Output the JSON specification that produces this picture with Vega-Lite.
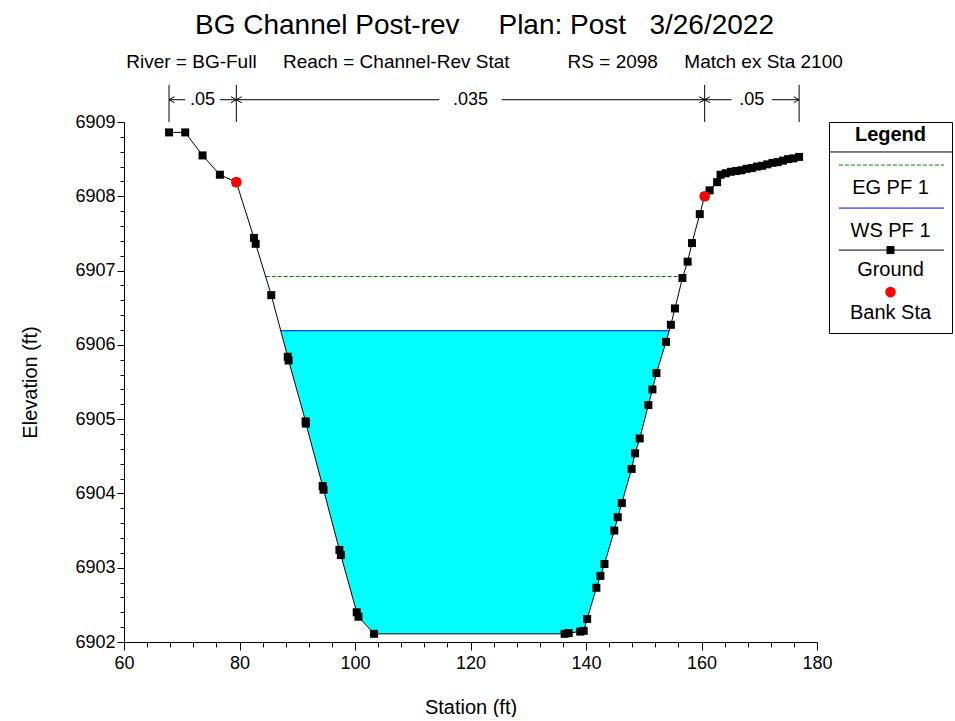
{
  "$schema": "https://vega.github.io/schema/vega-lite/v6.json",
  "autosize": {"type": "pad"},
  "padding": {"left": 20, "top": 12, "right": 0, "bottom": 0},
  "background": "white",
  "config": {"font": "Liberation Sans", "view": {"stroke": null}},
  "datasets": {
    "ground": [
      {"station": 67.8, "elev": 6908.86}, {"station": 70.6, "elev": 6908.86}, {"station": 73.6, "elev": 6908.55},
      {"station": 76.6, "elev": 6908.29}, {"station": 79.45, "elev": 6908.19}, {"station": 82.5, "elev": 6907.44},
      {"station": 82.8, "elev": 6907.36}, {"station": 85.5, "elev": 6906.67}, {"station": 88.35, "elev": 6905.84},
      {"station": 88.5, "elev": 6905.79}, {"station": 91.45, "elev": 6904.97}, {"station": 91.5, "elev": 6904.94},
      {"station": 94.4, "elev": 6904.1}, {"station": 94.55, "elev": 6904.05}, {"station": 97.3, "elev": 6903.24},
      {"station": 97.55, "elev": 6903.17}, {"station": 100.3, "elev": 6902.4}, {"station": 100.6, "elev": 6902.34},
      {"station": 103.3, "elev": 6902.11}, {"station": 136.3, "elev": 6902.11}, {"station": 137.0, "elev": 6902.12},
      {"station": 139.0, "elev": 6902.14}, {"station": 139.6, "elev": 6902.15}, {"station": 140.2, "elev": 6902.31},
      {"station": 141.8, "elev": 6902.73}, {"station": 142.5, "elev": 6902.89}, {"station": 143.2, "elev": 6903.05},
      {"station": 144.9, "elev": 6903.5}, {"station": 145.5, "elev": 6903.68}, {"station": 146.2, "elev": 6903.87},
      {"station": 147.9, "elev": 6904.33}, {"station": 148.5, "elev": 6904.54}, {"station": 149.3, "elev": 6904.74},
      {"station": 150.8, "elev": 6905.19}, {"station": 151.5, "elev": 6905.4}, {"station": 152.2, "elev": 6905.62},
      {"station": 153.85, "elev": 6906.04}, {"station": 154.7, "elev": 6906.27}, {"station": 155.4, "elev": 6906.49},
      {"station": 156.7, "elev": 6906.9}, {"station": 157.6, "elev": 6907.12}, {"station": 158.35, "elev": 6907.37},
      {"station": 159.7, "elev": 6907.76}, {"station": 160.55, "elev": 6908.0}, {"station": 161.4, "elev": 6908.08},
      {"station": 162.7, "elev": 6908.19}, {"station": 163.3, "elev": 6908.29}, {"station": 164.2, "elev": 6908.31},
      {"station": 165.1, "elev": 6908.33}, {"station": 166.0, "elev": 6908.34}, {"station": 166.9, "elev": 6908.35},
      {"station": 167.8, "elev": 6908.37}, {"station": 168.7, "elev": 6908.38}, {"station": 169.6, "elev": 6908.4},
      {"station": 170.5, "elev": 6908.41}, {"station": 171.4, "elev": 6908.43}, {"station": 172.3, "elev": 6908.45},
      {"station": 173.2, "elev": 6908.46}, {"station": 174.1, "elev": 6908.48}, {"station": 175.0, "elev": 6908.5},
      {"station": 175.9, "elev": 6908.51}, {"station": 176.9, "elev": 6908.53}
    ],
    "water": [
      {"station": 87.17, "elev": 6906.19}, {"station": 88.35, "elev": 6905.84}, {"station": 88.5, "elev": 6905.79},
      {"station": 91.45, "elev": 6904.97}, {"station": 91.5, "elev": 6904.94}, {"station": 94.4, "elev": 6904.1},
      {"station": 94.55, "elev": 6904.05}, {"station": 97.3, "elev": 6903.24}, {"station": 97.55, "elev": 6903.17},
      {"station": 100.3, "elev": 6902.4}, {"station": 100.6, "elev": 6902.34}, {"station": 103.3, "elev": 6902.11},
      {"station": 136.3, "elev": 6902.11}, {"station": 137.0, "elev": 6902.12}, {"station": 139.0, "elev": 6902.14},
      {"station": 139.6, "elev": 6902.15}, {"station": 140.2, "elev": 6902.31}, {"station": 141.8, "elev": 6902.73},
      {"station": 142.5, "elev": 6902.89}, {"station": 143.2, "elev": 6903.05}, {"station": 144.9, "elev": 6903.5},
      {"station": 145.5, "elev": 6903.68}, {"station": 146.2, "elev": 6903.87}, {"station": 147.9, "elev": 6904.33},
      {"station": 148.5, "elev": 6904.54}, {"station": 149.3, "elev": 6904.74}, {"station": 150.8, "elev": 6905.19},
      {"station": 151.5, "elev": 6905.4}, {"station": 152.2, "elev": 6905.62}, {"station": 153.85, "elev": 6906.04},
      {"station": 154.4, "elev": 6906.19}
    ],
    "bank": [{"station": 79.45, "elev": 6908.19}, {"station": 160.55, "elev": 6908.0}],
    "ws": [{"station": 87.17, "station2": 154.4, "elev": 6906.19}],
    "eg": [{"station": 84.53, "station2": 156.75, "elev": 6906.92}],
    "nbounds": [
      {"station": 67.8, "elev": 6909.0, "elev2": 6909.5}, {"station": 79.45, "elev": 6909.0, "elev2": 6909.5},
      {"station": 160.55, "elev": 6909.0, "elev2": 6909.5}, {"station": 176.9, "elev": 6909.0, "elev2": 6909.5}
    ],
    "narrows": [
      {"station": 67.8, "station2": 70.6, "elev": 6909.3}, {"station": 76.6, "station2": 79.45, "elev": 6909.3},
      {"station": 79.45, "station2": 114.6, "elev": 6909.3}, {"station": 125.4, "station2": 160.55, "elev": 6909.3},
      {"station": 160.55, "station2": 165.2, "elev": 6909.3}, {"station": 172.2, "station2": 176.9, "elev": 6909.3}
    ],
    "nlabels": [
      {"n": ".05", "station": 73.6, "elev": 6909.3}, {"n": ".035", "station": 120.0, "elev": 6909.3},
      {"n": ".05", "station": 168.7, "elev": 6909.3}
    ],
    "nheads": [
      {"station": 67.8, "elev": 6909.3, "dir": "left"}, {"station": 79.45, "elev": 6909.3, "dir": "right"},
      {"station": 79.45, "elev": 6909.3, "dir": "left"}, {"station": 160.55, "elev": 6909.3, "dir": "right"},
      {"station": 160.55, "elev": 6909.3, "dir": "left"}, {"station": 176.9, "elev": 6909.3, "dir": "right"}
    ],
    "legendText": [
      {"label": "EG PF 1", "lx": 0.5, "ly": 3.13}, {"label": "WS PF 1", "lx": 0.5, "ly": 5.17},
      {"label": "Ground", "lx": 0.5, "ly": 7.01}, {"label": "Bank Sta", "lx": 0.5, "ly": 9.05}
    ]
  },
  "hconcat": [
    {
      "width": 693,
      "height": 520,
      "title": {
        "text": "BG Channel Post-rev\u00a0\u00a0\u00a0\u00a0 Plan: Post\u00a0\u00a0 3/26/2022",
        "subtitle": "River = BG-Full\u00a0\u00a0\u00a0\u00a0 Reach = Channel-Rev Stat\u00a0\u00a0\u00a0\u00a0\u00a0\u00a0\u00a0\u00a0\u00a0\u00a0 RS = 2098\u00a0\u00a0\u00a0\u00a0 Match ex Sta 2100",
        "fontSize": 28, "fontWeight": "normal", "color": "black",
        "subtitleFontSize": 19, "subtitleColor": "black", "subtitlePadding": 13,
        "anchor": "middle", "frame": "group", "dx": 14, "offset": 12
      },
      "encoding": {
        "x": {
          "field": "station", "type": "quantitative",
          "scale": {"domain": [60, 180], "nice": false, "zero": false},
          "axis": {
            "title": "Station (ft)", "titleFontSize": 20, "titleFontWeight": "normal", "titleColor": "black", "titlePadding": 25,
            "values": [60, 64, 68, 72, 76, 80, 84, 88, 92, 96, 100, 104, 108, 112, 116, 120, 124, 128, 132, 136, 140, 144, 148, 152, 156, 160, 164, 168, 172, 176, 180],
            "format": "d",
            "labelExpr": "datum.value % 20 === 0 ? datum.label : ''",
            "labelFontSize": 18, "labelColor": "black", "labelPadding": 4, "labelOverlap": false, "labelFlush": false,
            "tickSize": {"condition": {"test": "datum.value % 20 === 0", "value": 8}, "value": 5},
            "tickColor": "black", "domainColor": "black", "grid": false
          }
        },
        "y": {
          "field": "elev", "type": "quantitative",
          "scale": {"domain": [6902, 6909], "nice": false, "zero": false},
          "axis": {
            "title": "Elevation (ft)", "titleFontSize": 20, "titleFontWeight": "normal", "titleColor": "black", "titlePadding": 34,
            "values": [6902, 6902.2, 6902.4, 6902.6, 6902.8, 6903, 6903.2, 6903.4, 6903.6, 6903.8, 6904, 6904.2, 6904.4, 6904.6, 6904.8, 6905, 6905.2, 6905.4, 6905.6, 6905.8, 6906, 6906.2, 6906.4, 6906.6, 6906.8, 6907, 6907.2, 6907.4, 6907.6, 6907.8, 6908, 6908.2, 6908.4, 6908.6, 6908.8, 6909],
            "labelExpr": "abs(datum.value - round(datum.value)) < 0.001 ? format(datum.value, 'd') : ''",
            "labelFontSize": 18, "labelColor": "black", "labelPadding": 2, "labelOverlap": false, "labelFlush": false,
            "tickSize": {"condition": {"test": "abs(datum.value - round(datum.value)) < 0.001", "value": 7}, "value": 4},
            "tickColor": "black", "domainColor": "black", "grid": false
          }
        }
      },
      "layer": [
        {
          "data": {"name": "water"},
          "mark": {"type": "area", "color": "#00FFFF", "opacity": 1},
          "encoding": {"y2": {"datum": 6906.19}}
        },
        {
          "data": {"name": "eg"},
          "mark": {"type": "rule", "color": "#008000", "strokeWidth": 1, "strokeDash": [4, 2]},
          "encoding": {"x2": {"field": "station2"}}
        },
        {
          "data": {"name": "ws"},
          "mark": {"type": "rule", "color": "#0000FF", "strokeWidth": 1},
          "encoding": {"x2": {"field": "station2"}}
        },
        {
          "data": {"name": "ground"},
          "mark": {"type": "line", "color": "black", "strokeWidth": 1},
          "encoding": {}
        },
        {
          "data": {"name": "ground"},
          "mark": {"type": "square", "color": "black", "size": 64, "opacity": 1}
        },
        {
          "data": {"name": "bank"},
          "mark": {"type": "circle", "color": "#FF0000", "size": 113, "opacity": 1}
        },
        {
          "data": {"name": "nbounds"},
          "mark": {"type": "rule", "color": "black", "strokeWidth": 1},
          "encoding": {"y2": {"field": "elev2"}}
        },
        {
          "data": {"name": "narrows"},
          "mark": {"type": "rule", "color": "black", "strokeWidth": 1},
          "encoding": {"x2": {"field": "station2"}}
        },
        {
          "data": {"name": "nheads"},
          "mark": {"type": "point", "filled": false, "stroke": "black", "strokeWidth": 1, "size": 36, "opacity": 1},
          "encoding": {
            "shape": {"field": "dir", "type": "nominal", "scale": {"domain": ["left", "right"], "range": ["M1.8,-1L0,0L1.8,1", "M-1.8,-1L0,0L-1.8,1"]}, "legend": null}
          }
        },
        {
          "data": {"name": "nlabels"},
          "mark": {"type": "text", "fontSize": 18, "color": "black", "align": "center", "baseline": "middle"},
          "encoding": {"text": {"field": "n"}}
        }
      ]
    },
    {
      "width": 123,
      "height": 211,
      "view": {"stroke": "black", "strokeWidth": 1},
      "encoding": {
        "x": {"field": "lx", "type": "quantitative", "scale": {"domain": [0, 1]}, "axis": null},
        "y": {"field": "ly", "type": "quantitative", "scale": {"domain": [0, 10], "reverse": true}, "axis": null}
      },
      "layer": [
        {
          "data": {"values": [{"lx": 0, "lx2": 1, "ly": 1.42}]},
          "mark": {"type": "rule", "color": "black", "strokeWidth": 1},
          "encoding": {"x2": {"field": "lx2"}}
        },
        {
          "data": {"values": [{"label": "Legend", "lx": 0.5, "ly": 0.62}]},
          "mark": {"type": "text", "fontSize": 20, "fontWeight": "bold", "color": "black", "align": "center", "baseline": "middle"},
          "encoding": {"text": {"field": "label"}}
        },
        {
          "data": {"values": [{"lx": 0.08, "lx2": 0.935, "ly": 2.04}]},
          "mark": {"type": "rule", "color": "#008000", "strokeWidth": 1, "strokeDash": [4, 2]},
          "encoding": {"x2": {"field": "lx2"}}
        },
        {
          "data": {"values": [{"lx": 0.08, "lx2": 0.935, "ly": 4.08}]},
          "mark": {"type": "rule", "color": "#0000FF", "strokeWidth": 1},
          "encoding": {"x2": {"field": "lx2"}}
        },
        {
          "data": {"values": [{"lx": 0.08, "lx2": 0.935, "ly": 6.07}]},
          "mark": {"type": "rule", "color": "black", "strokeWidth": 1},
          "encoding": {"x2": {"field": "lx2"}}
        },
        {
          "data": {"values": [{"lx": 0.5, "ly": 6.07}]},
          "mark": {"type": "square", "color": "black", "size": 64, "opacity": 1}
        },
        {
          "data": {"values": [{"lx": 0.5, "ly": 8.06}]},
          "mark": {"type": "circle", "color": "#FF0000", "size": 113, "opacity": 1}
        },
        {
          "data": {"name": "legendText"},
          "mark": {"type": "text", "fontSize": 20, "color": "black", "align": "center", "baseline": "middle"},
          "encoding": {"text": {"field": "label"}}
        }
      ]
    }
  ],
  "spacing": 12,
  "bounds": "flush"
}
